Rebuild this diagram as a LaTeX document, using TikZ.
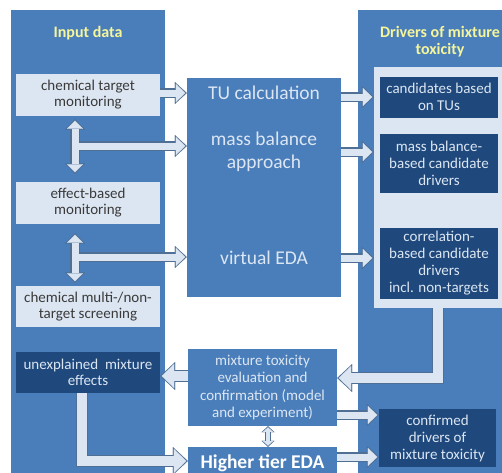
\documentclass[tikz,border=0pt]{standalone}
\usepackage{fontspec}
\setmainfont{Carlito}
\usetikzlibrary{arrows.meta,calc}

\definecolor{panelblue}{HTML}{4A7EBB}
\definecolor{darkbox}{HTML}{1F497D}
\definecolor{lightbox}{HTML}{DCE6F2}
\definecolor{arrowline}{HTML}{4F6F94}
\definecolor{titleyellow}{HTML}{F5F59A}
\definecolor{boxtext}{HTML}{3A3A3A}

\tikzset{
  panel/.style={fill=panelblue, inner sep=0pt},
  title/.style={text=titleyellow, align=center, font=\bfseries\fontsize{16}{17}\selectfont},
  inbox/.style={fill=lightbox, text=boxtext, align=center, inner sep=0pt,
    minimum width=144pt, font=\fontsize{15}{16}\selectfont},
  drvbox/.style={fill=darkbox, text=lightbox, align=center, inner sep=0pt,
    font=\fontsize{15}{17}\selectfont},
  method/.style={text=lightbox, align=center, font=\fontsize{19.5}{23}\selectfont},
  blk/.style={line width=7pt, draw=lightbox, line join=miter, shorten >=1.5pt,
    -{Triangle[width=18pt,length=9.5pt,line width=0.1pt]},
    preaction={draw=arrowline, line width=9.5pt, shorten >=0pt,
      -{Triangle[width=22pt,length=12pt,line width=0.1pt]}}},
  dblk/.style={line width=7pt, draw=lightbox, shorten >=1.5pt, shorten <=1.5pt,
    {Triangle[width=16pt,length=8pt,line width=0.1pt]}-{Triangle[width=16pt,length=8pt,line width=0.1pt]},
    preaction={draw=arrowline, line width=9.5pt, shorten >=0pt, shorten <=0pt,
      {Triangle[width=20pt,length=10.5pt,line width=0.1pt]}-{Triangle[width=20pt,length=10.5pt,line width=0.1pt]}}},
  bigblk/.style={line width=10pt, draw=lightbox, line join=miter, shorten >=1.5pt,
    -{Triangle[width=24pt,length=12.5pt,line width=0.1pt]},
    preaction={draw=arrowline, line width=12.5pt, shorten >=0pt,
      -{Triangle[width=28pt,length=15pt,line width=0.1pt]}}},
  sdblk/.style={line width=4.5pt, draw=lightbox, shorten >=1.2pt, shorten <=1.2pt,
    {Triangle[width=10pt,length=4.5pt,line width=0.1pt]}-{Triangle[width=10pt,length=4.5pt,line width=0.1pt]},
    preaction={draw=arrowline, line width=6.5pt, shorten >=0pt, shorten <=0pt,
      {Triangle[width=13pt,length=6pt,line width=0.1pt]}-{Triangle[width=13pt,length=6pt,line width=0.1pt]}}}
}

\begin{document}
\begin{tikzpicture}[x=1pt,y=-1pt]
  \useasboundingbox (0,0) rectangle (502,472);
  \clip (0,0) rectangle (502,472);

  % panels
  \node[panel, minimum width=154pt, minimum height=470pt] (inpanel) at (88,245) {};
  \node[panel, minimum width=162pt, minimum height=470pt] (drvpanel) at (439,245) {};
  \node[fill=lightbox, inner sep=0pt, minimum width=140pt, minimum height=241pt] (drvinner) at (444,187.5) {};
  \node[title] (intitle) at (88,33) {Input data};
  \node[title] (drvtitle) at (440,42) {Drivers of mixture\\toxicity};

  % input data
  \node[inbox, minimum height=42pt] (ctm) at (88,95) {chemical target\\monitoring};
  \node[inbox, minimum height=42pt] (ebm) at (88,203) {effect-based\\monitoring};
  \node[inbox, minimum height=41pt] (cms) at (88,306.5) {chemical multi-/non-\\target screening};
  \node[inbox, fill=darkbox, text=lightbox, minimum height=41pt] (ume) at (88,372.5) {unexplained\ \ mixture\\effects};

  % methods
  \node[panel, minimum width=154pt, minimum height=219pt] (tools) at (264,187.5) {};
  \node[method] (tu) at (264,93) {TU calculation};
  \node[method] (mb) at (264,152) {mass balance\\approach};
  \node[method] (veda) at (264,258) {virtual EDA};
  \node[panel, text=lightbox, align=center, minimum width=149pt, minimum height=77pt,
    font=\fontsize{15}{17.5}\selectfont] (mix) at (262.5,387.5)
    {mixture toxicity\\evaluation and\\confirmation (model\\and experiment)};
  \node[panel, text=white, minimum width=149pt, minimum height=32pt,
    font=\bfseries\fontsize{19.5}{20}\selectfont] (hte) at (262.5,463) {Higher tier EDA};

  % drivers
  \node[drvbox, minimum width=118pt, minimum height=41pt] (tus) at (439,97) {candidates based\\on TUs};
  \node[drvbox, minimum width=118pt, minimum height=59pt] (mbd) at (439,163.5) {mass balance-\\based candidate\\drivers};
  \node[drvbox, minimum width=118pt, minimum height=71pt] (cbd) at (439,263.5) {correlation-\\based candidate\\drivers\\incl. non-targets};
  \node[drvbox, minimum width=117pt, minimum height=58pt] (conf) at (437.5,438) {confirmed\\drivers of\\mixture toxicity};

  % arrows
  \coordinate (j1) at (75,146);
  \coordinate (j2) at (75,257);
  \draw[blk] (ctm.east |- tu) -- (tools.west |- tu);
  \draw[dblk] ([yshift=-3pt]ctm.south -| j1) -- ([yshift=8pt]ebm.north -| j1);
  \draw[dblk] ([yshift=-9pt]ebm.south -| j2) -- ([yshift=3pt]cms.north -| j2);
  \draw[blk] ([xshift=3.5pt]j1) -- (tools.west |- j1);
  \draw[blk] ([xshift=3.5pt]j2) -- (tools.west |- j2);

  \draw[blk] ([yshift=-4pt]tools.east |- tu) -- ([yshift=-4pt]drvinner.west |- tu);
  \draw[blk] (tools.east |- mb) -- (drvinner.west |- mb);
  \draw[blk] (tools.east |- veda) -- (drvinner.west |- veda);

  \draw[bigblk] ([xshift=-6pt]drvinner.south) |- ([yshift=9.5pt]mix.east);
  \draw[bigblk] ([yshift=11.5pt]mix.west) -- ([yshift=11.5pt]mix.west -| ume.east);
  \draw[bigblk] ([xshift=-6pt]ume.south) |- ([yshift=2pt]hte.west);
  \draw[sdblk] ([xshift=5.5pt]mix.south) -- ([xshift=5.5pt]hte.north);
  \draw[blk] ([yshift=-27.5pt]mix.east) -- ([yshift=-27.5pt]mix.east -| conf.west);
  \draw[blk] ([yshift=6pt]hte.east) -- ([yshift=6pt]hte.east -| conf.west);
\end{tikzpicture}
\end{document}
